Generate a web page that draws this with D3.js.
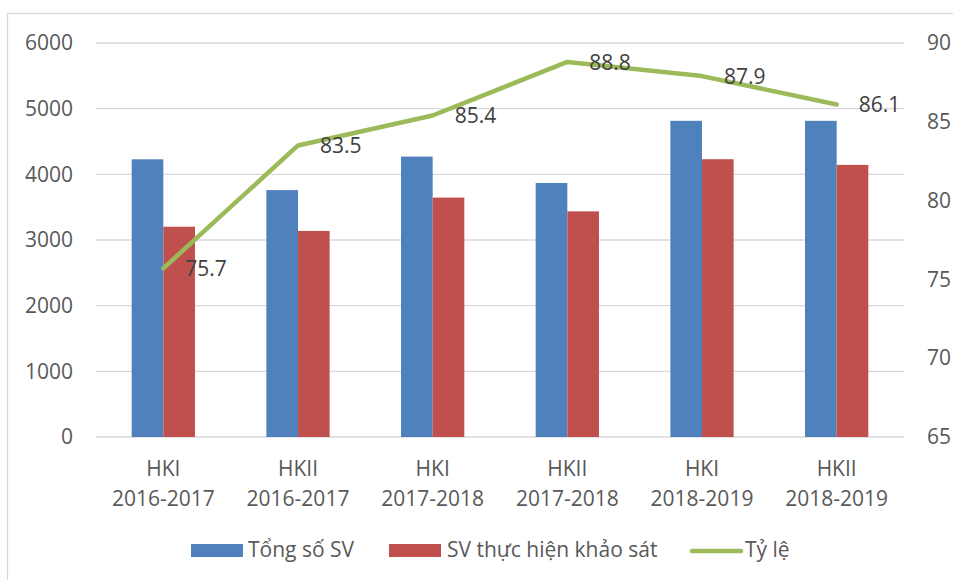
<!DOCTYPE html>
<html>
<head>
<meta charset="utf-8">
<script src="https://cdn.jsdelivr.net/npm/d3@7"></script>
<style>
  body { margin: 0; background: #fff; }
  text { font-family: "Open Sans", "Noto Sans", sans-serif; }
</style>
</head>
<body>
<div id="chart"></div>
<script>
// Data
const semesters = ["HKI", "HKII", "HKI", "HKII", "HKI", "HKII"];
const years = ["2016-2017", "2016-2017", "2017-2018", "2017-2018", "2018-2019", "2018-2019"];
const totalSV = [4229, 3760, 4270, 3868, 4815, 4815];
const surveyedSV = [3202, 3138, 3646, 3436, 4230, 4144];
const rate = [75.7, 83.5, 85.4, 88.8, 87.9, 86.1];
const leftTicks = [0, 1000, 2000, 3000, 4000, 5000, 6000];
const rightTicks = [65, 70, 75, 80, 85, 90];

const W = 953, H = 580;
const margin = {top: 43, right: 49, bottom: 143, left: 96};
const colors = {total: "#4F81BD", surveyed: "#C0504D", rate: "#9BBB59"};
const fs = "21px";

const svg = d3.select("#chart")
  .append("svg")
  .attr("width", W)
  .attr("height", H);

// Chart border (only top and left edges visible)
svg.append("rect")
  .attr("x", 7.5).attr("y", 13.5)
  .attr("width", W + 20).attr("height", H + 20)
  .attr("fill", "none")
  .attr("stroke", "#D9D9D9")
  .attr("stroke-width", 1.3);

const idx = d3.range(semesters.length);

// Scales
const x = d3.scaleBand()
  .domain(idx)
  .range([margin.left, W - margin.right]);
const bw = x.bandwidth() * 0.235;

const y = d3.scaleLinear()
  .domain([0, 6000])
  .range([H - margin.bottom, margin.top]);
const y2 = d3.scaleLinear()
  .domain([65, 90])
  .range([H - margin.bottom, margin.top]);

// Gridlines
svg.append("g")
  .selectAll("line")
  .data(leftTicks)
  .join("line")
  .attr("x1", margin.left)
  .attr("x2", W - margin.right)
  .attr("y1", d => y(d))
  .attr("y2", d => y(d))
  .attr("stroke", "#D9D9D9")
  .attr("stroke-width", 1.3);

// Left axis
const leftAxis = svg.append("g")
  .attr("transform", `translate(${margin.left - 23},0)`)
  .call(d3.axisLeft(y).tickValues(leftTicks).tickFormat(d3.format("d")).tickSize(0).tickPadding(0));
leftAxis.select(".domain").remove();
leftAxis.selectAll("text")
  .attr("font-size", fs)
  .attr("fill", "#595959")
  .attr("font-family", "Open Sans, sans-serif");

// Right axis
const rightAxis = svg.append("g")
  .attr("transform", `translate(${W - margin.right + 23},0)`)
  .call(d3.axisRight(y2).tickValues(rightTicks).tickFormat(d3.format("d")).tickSize(0).tickPadding(0));
rightAxis.select(".domain").remove();
rightAxis.selectAll("text")
  .attr("font-size", fs)
  .attr("fill", "#595959")
  .attr("font-family", "Open Sans, sans-serif");

// Bars
const cx = i => x(i) + x.bandwidth() / 2;
svg.append("g")
  .selectAll("rect")
  .data(idx)
  .join("rect")
  .attr("x", i => cx(i) - bw)
  .attr("y", i => y(totalSV[i]))
  .attr("width", bw)
  .attr("height", i => y(0) - y(totalSV[i]))
  .attr("fill", colors.total);

svg.append("g")
  .selectAll("rect")
  .data(idx)
  .join("rect")
  .attr("x", i => cx(i))
  .attr("y", i => y(surveyedSV[i]))
  .attr("width", bw)
  .attr("height", i => y(0) - y(surveyedSV[i]))
  .attr("fill", colors.surveyed);

// Rate line
const line = d3.line()
  .x(i => cx(i))
  .y(i => y2(rate[i]));
svg.append("path")
  .datum(idx)
  .attr("fill", "none")
  .attr("stroke", colors.rate)
  .attr("stroke-width", 4.5)
  .attr("stroke-linejoin", "round")
  .attr("stroke-linecap", "round")
  .attr("d", line);

// Data labels
svg.append("g")
  .selectAll("text")
  .data(idx)
  .join("text")
  .attr("x", i => cx(i) + 22)
  .attr("y", i => y2(rate[i]) + 2)
  .attr("dominant-baseline", "middle")
  .attr("font-size", fs)
  .attr("fill", "#404040")
  .text(i => rate[i].toFixed(1));

// Category labels (two lines)
const cat = svg.append("g")
  .selectAll("text")
  .data(idx)
  .join("text")
  .attr("text-anchor", "middle")
  .attr("font-size", fs)
  .attr("fill", "#595959");
cat.append("tspan")
  .attr("x", i => cx(i))
  .attr("y", 476)
  .text(i => semesters[i]);
cat.append("tspan")
  .attr("x", i => cx(i))
  .attr("y", 506)
  .text(i => years[i]);

// Legend
const legend = svg.append("g");
const legendItems = [
  {label: "Tổng số SV", color: colors.total, type: "rect", x: 191, tx: 248},
  {label: "SV thực hiện khảo sát", color: colors.surveyed, type: "rect", x: 389, tx: 447},
  {label: "Tỷ lệ", color: colors.rate, type: "line", x: 690, tx: 745}
];
legendItems.forEach(it => {
  if (it.type === "rect") {
    legend.append("rect")
      .attr("x", it.x).attr("y", 544)
      .attr("width", 52).attr("height", 13)
      .attr("fill", it.color);
  } else {
    legend.append("line")
      .attr("x1", it.x + 2).attr("x2", it.x + 51)
      .attr("y1", 551).attr("y2", 551)
      .attr("stroke", it.color)
      .attr("stroke-width", 4.5)
      .attr("stroke-linecap", "round");
  }
  legend.append("text")
    .attr("x", it.tx)
    .attr("y", 551)
    .attr("dominant-baseline", "middle")
    .attr("font-size", fs)
    .attr("fill", "#595959")
    .text(it.label);
});
</script>
</body>
</html>
